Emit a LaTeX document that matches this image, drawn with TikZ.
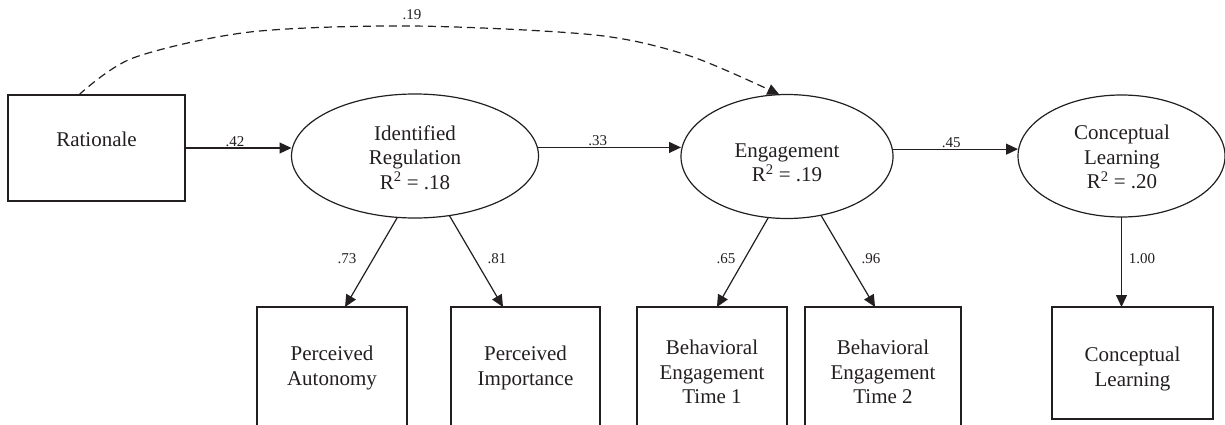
\documentclass[tikz,border=0pt]{standalone}
\usepackage{fontspec}
\setmainfont{Liberation Serif}
\usetikzlibrary{arrows.meta,shapes.geometric,calc}
\definecolor{ink}{RGB}{35,31,32}
\begin{document}
\begin{tikzpicture}[x=1pt,y=-1pt,
  every node/.style={text=ink},
  box/.style={draw=ink, line width=1.2pt, rectangle, inner sep=0pt, outer sep=0pt},
  lat/.style={draw=ink, line width=1.2pt, ellipse, inner sep=0pt, outer sep=0pt},
  txt/.style={font=\fontsize{21}{24.5}\selectfont, align=center, inner sep=0pt},
  coef/.style={font=\fontsize{15}{18}\selectfont, inner sep=0pt},
  arr/.style={draw=ink, line width=1.2pt, -{Triangle[length=12pt,width=11pt]}},
  dasharr/.style={arr, dash pattern=on 8pt off 5pt},
]
\useasboundingbox (0,0) rectangle (1225,425);
\clip (0,0) rectangle (1225,425);

% latent variables
\node[lat, minimum width=247pt, minimum height=124pt] (ir) at (415,156) {};
\node[txt] (irT) at (415,157.5) {Identified\\Regulation\\R\textsuperscript{2} = .18};
\node[lat, minimum width=212pt, minimum height=124pt] (eng) at (787,156.5) {};
\node[txt] (engT) at (787,163) {Engagement\\R\textsuperscript{2} = .19};
\node[lat, minimum width=207pt, minimum height=122pt] (cle) at (1121.5,156) {};
\node[txt] (cleT) at (1122,157) {Conceptual\\Learning\\R\textsuperscript{2} = .20};

% observed variables
\node[box, minimum width=177pt, minimum height=106pt] (rat) at (96.5,148) {};
\node[txt] (ratT) at (96.5,139) {Rationale};

\node[box, anchor=north, minimum width=150pt, minimum height=135pt] (pa) at (332,307) {};
\node[txt] (paT) at (332,368) {Perceived\\Autonomy};
\node[box, anchor=north, minimum width=149pt, minimum height=135pt] (pi) at (525.5,307) {};
\node[txt] (piT) at (525.5,368) {Perceived\\Importance};
\node[box, anchor=north, minimum width=150pt, minimum height=135pt] (bet1) at (712,307) {};
\node[txt] (bet1T) at (712,372) {Behavioral\\Engagement\\Time 1};
\node[box, anchor=north, minimum width=156pt, minimum height=135pt] (bet2) at (883,307) {};
\node[txt] (bet2T) at (883,372) {Behavioral\\Engagement\\Time 2};
\node[box, anchor=north, minimum width=161pt, minimum height=112pt] (clb) at (1132.5,307) {};
\node[txt] (clbT) at (1132.5,369) {Conceptual\\Learning};

% structural paths
\draw[arr] (rat.east) -- (rat.east -| ir.west) node[coef, above=1pt, pos=0.47] (l42) {.42};
\draw[arr] (ir.4) -- (ir.4 -| eng.west) node[coef, above=1pt, pos=0.42] (l33) {.33};
\draw[arr] (eng.4) -- (eng.4 -| cle.west) node[coef, above=1pt, pos=0.47] (l45) {.45};

% direct effect (dashed)
\coordinate (ds) at ($(rat.north west)!0.4!(rat.north east)$);
\draw[dasharr] plot[smooth] coordinates {(ds) (133,58) (250,32) (412,26) (595,35) (690,56) (eng.97)};
\node[coef] (l19) at (412,15) {.19};

% measurement paths
\draw[arr] (ir.254) -- ($(pa.north west)!0.587!(pa.north east)$);
\draw[arr] (ir.300) -- ($(pi.north west)!0.349!(pi.north east)$);
\draw[arr] (eng.253) -- ($(bet1.north west)!0.533!(bet1.north east)$);
\draw[arr] (eng.300) -- ($(bet2.north west)!0.449!(bet2.north east)$);
\draw[arr] (cle.south) -- (cle.south |- clb.north);

\node[coef] (l73) at (347,259) {.73};
\node[coef] (l81) at (497,259) {.81};
\node[coef] (l65) at (726,259) {.65};
\node[coef] (l96) at (871,259) {.96};
\node[coef] (l100) at (1142,259) {1.00};
\end{tikzpicture}
\end{document}
